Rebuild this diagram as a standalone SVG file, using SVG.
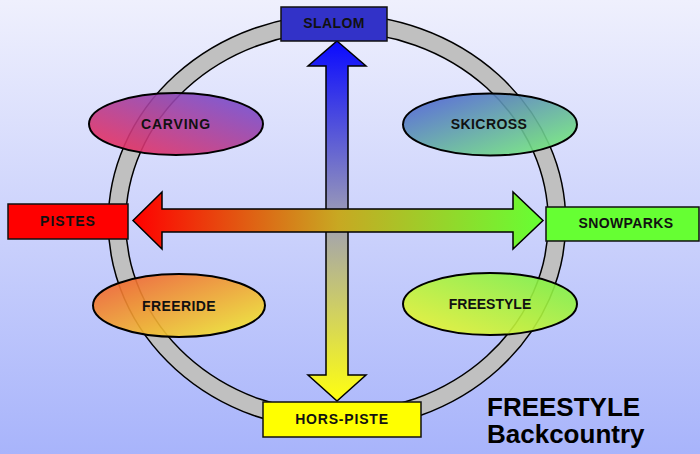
<svg xmlns="http://www.w3.org/2000/svg" width="700" height="454" viewBox="0 0 700 454">
<defs>
<linearGradient id="bg" x1="0" y1="0" x2="0" y2="1">
<stop offset="0" stop-color="#eff0fd"/>
<stop offset="1" stop-color="#a8b4fb"/>
</linearGradient>
<linearGradient id="gv" gradientUnits="userSpaceOnUse" x1="0" y1="41" x2="0" y2="401">
<stop offset="0" stop-color="#0a0aff"/>
<stop offset="0.5" stop-color="#a0a0b4"/>
<stop offset="1" stop-color="#ffff10"/>
</linearGradient>
<linearGradient id="gh" gradientUnits="userSpaceOnUse" x1="133" y1="0" x2="543" y2="0">
<stop offset="0" stop-color="#ff0000"/>
<stop offset="0.5" stop-color="#c8a822"/>
<stop offset="1" stop-color="#66ff33"/>
</linearGradient>
<linearGradient id="gCarving" x1="0" y1="1" x2="1" y2="0">
<stop offset="0" stop-color="#f82c50"/>
<stop offset="1" stop-color="#6650dc"/>
</linearGradient>
<linearGradient id="gSkicross" x1="0" y1="0" x2="1" y2="1">
<stop offset="0" stop-color="#4c58dc"/>
<stop offset="1" stop-color="#78f870"/>
</linearGradient>
<linearGradient id="gFreeride" x1="0" y1="0" x2="1" y2="1">
<stop offset="0" stop-color="#f25630"/>
<stop offset="1" stop-color="#f2f430"/>
</linearGradient>
<linearGradient id="gFreestyle" x1="0" y1="1" x2="1" y2="0">
<stop offset="0" stop-color="#f4f430"/>
<stop offset="1" stop-color="#74f248"/>
</linearGradient>
<style>
.box{stroke:#111;stroke-width:1.5}
.ell{stroke:#000;stroke-width:2;fill-opacity:0.9}
.lbl{font-family:"Liberation Sans",Arial,sans-serif;font-weight:bold;font-size:14px;fill:#111;text-anchor:middle;letter-spacing:0.4px}
.arrow{stroke:#000;stroke-width:1.5;stroke-linejoin:miter}
.big{font-family:"Liberation Sans",Arial,sans-serif;font-weight:bold;font-size:26px;fill:#000}
</style>
</defs>
<rect x="0" y="0" width="700" height="454" fill="url(#bg)"/>
<g id="ring">
<ellipse cx="337" cy="222" rx="220" ry="199" fill="none" stroke="#000" stroke-width="19"/>
<ellipse cx="337" cy="222" rx="220" ry="199" fill="none" stroke="#c0c0c0" stroke-width="16"/>
</g>
<g id="connectors">
<path class="arrow" fill="url(#gv)" d="M337,41 L366,66 L348,66 L348,375 L366,375 L337,401 L308,375 L326,375 L326,66 L308,66 Z"/>
<path class="arrow" fill="url(#gh)" d="M133,220.5 L162,192 L162,209 L513,209 L513,192 L543,220.5 L513,249 L513,232 L162,232 L162,249 Z"/>
</g>
<g id="slalom">
<rect class="box" x="281" y="7" width="106" height="34" fill="#3232c8"/>
<text class="lbl" x="334" y="28">SLALOM</text>
</g>
<g id="pistes">
<rect class="box" x="8" y="204" width="120" height="35" fill="#ff0000"/>
<text class="lbl" x="68" y="226" style="letter-spacing:1px">PISTES</text>
</g>
<g id="snowparks">
<rect class="box" x="546" y="207" width="153" height="34" fill="#66ff33"/>
<text class="lbl" x="626" y="228">SNOWPARKS</text>
</g>
<g id="hors-piste">
<rect class="box" x="263" y="402" width="158" height="35" fill="#ffff00"/>
<text class="lbl" x="342" y="424" style="letter-spacing:0.8px">HORS-PISTE</text>
</g>
<g id="carving">
<ellipse class="ell" cx="176" cy="124" rx="87" ry="31" fill="url(#gCarving)"/>
<text class="lbl" x="176" y="129" style="letter-spacing:0.8px">CARVING</text>
</g>
<g id="skicross">
<ellipse class="ell" cx="490" cy="124.5" rx="87" ry="31" fill="url(#gSkicross)"/>
<text class="lbl" x="489" y="129">SKICROSS</text>
</g>
<g id="freeride">
<ellipse class="ell" cx="179" cy="305.5" rx="86" ry="31.5" fill="url(#gFreeride)"/>
<text class="lbl" x="179" y="311">FREERIDE</text>
</g>
<g id="freestyle">
<ellipse class="ell" cx="490" cy="304" rx="87" ry="31" fill="url(#gFreestyle)"/>
<text class="lbl" x="490" y="309" style="letter-spacing:0">FREESTYLE</text>
</g>
<g id="title">
<text class="big" x="487" y="416">FREESTYLE</text>
<text class="big" x="487" y="443">Backcountry</text>
</g>
</svg>
